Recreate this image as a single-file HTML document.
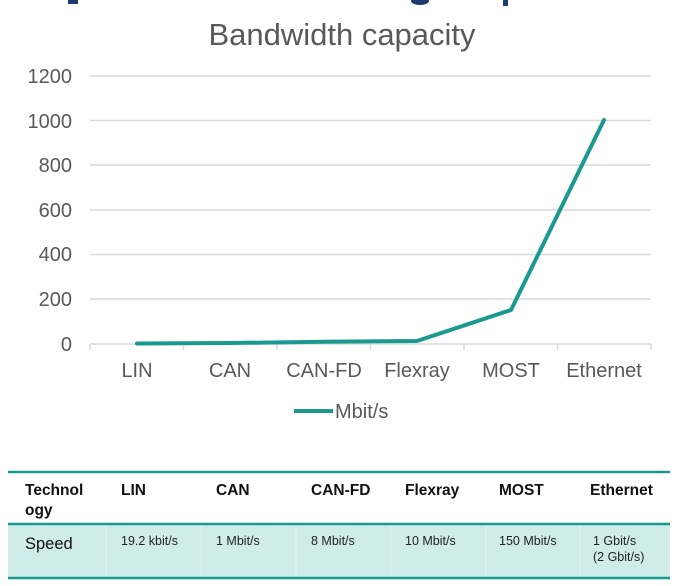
<!DOCTYPE html>
<html><head><meta charset="utf-8"><style>
body{margin:0;background:#fff;width:680px;height:586px;overflow:hidden;font-family:"Liberation Sans",Arial,sans-serif;}
</style></head><body>
<svg width="680" height="586" xmlns="http://www.w3.org/2000/svg" style="position:absolute;left:0;top:0">
<g fill="#1f3b6e">
<rect x="68" y="0" width="10" height="4"/>
<ellipse cx="420" cy="1" rx="9" ry="4"/>
<rect x="503" y="0" width="5" height="6"/>
</g>
<text x="342" y="45" text-anchor="middle" font-size="31" fill="#595959">Bandwidth capacity</text>
<g stroke="#d9d9d9" stroke-width="1.5">
<line x1="90" y1="76" x2="651" y2="76"/>
<line x1="90" y1="120.5" x2="651" y2="120.5"/>
<line x1="90" y1="165" x2="651" y2="165"/>
<line x1="90" y1="210" x2="651" y2="210"/>
<line x1="90" y1="254.5" x2="651" y2="254.5"/>
<line x1="90" y1="299" x2="651" y2="299"/>
<line x1="90" y1="344" x2="651" y2="344"/>
<line x1="90" y1="344" x2="90" y2="350"/>
<line x1="183.5" y1="344" x2="183.5" y2="350"/>
<line x1="277" y1="344" x2="277" y2="350"/>
<line x1="370.5" y1="344" x2="370.5" y2="350"/>
<line x1="464" y1="344" x2="464" y2="350"/>
<line x1="557.5" y1="344" x2="557.5" y2="350"/>
<line x1="651" y1="344" x2="651" y2="350"/>
</g>
<g font-size="20" fill="#595959" text-anchor="end">
<text x="72" y="83">1200</text>
<text x="72" y="128">1000</text>
<text x="72" y="172">800</text>
<text x="72" y="217">600</text>
<text x="72" y="261">400</text>
<text x="72" y="306">200</text>
<text x="72" y="351">0</text>
</g>
<g font-size="20" fill="#595959" text-anchor="middle">
<text x="137" y="377">LIN</text>
<text x="230" y="377">CAN</text>
<text x="324" y="377">CAN-FD</text>
<text x="417" y="377">Flexray</text>
<text x="511" y="377">MOST</text>
<text x="604" y="377">Ethernet</text>
</g>
<polyline points="137,343.5 230,343 324,341.8 417,341 511,310 604,120" fill="none" stroke="#1a9a8f" stroke-width="4" stroke-linejoin="round" stroke-linecap="round"/>
<line x1="294" y1="411" x2="333" y2="411" stroke="#1a9a8f" stroke-width="4"/>
<text x="335" y="418" font-size="20" fill="#595959">Mbit/s</text>
<rect x="8" y="524" width="662" height="54" fill="#cfeceb"/>
<g stroke="#e6f5f4" stroke-width="1">
<line x1="106" y1="524" x2="106" y2="578"/>
<line x1="201" y1="524" x2="201" y2="578"/>
<line x1="296" y1="524" x2="296" y2="578"/>
<line x1="391" y1="524" x2="391" y2="578"/>
<line x1="486" y1="524" x2="486" y2="578"/>
<line x1="580" y1="524" x2="580" y2="578"/>
</g>
<g stroke="#1a9a8f" stroke-width="2.5">
<line x1="8" y1="472" x2="670" y2="472"/>
<line x1="8" y1="524" x2="670" y2="524"/>
<line x1="8" y1="578" x2="670" y2="578"/>
</g>
<g font-size="15.5" font-weight="bold" fill="#111">
<text x="25" y="495">Technol</text>
<text x="25" y="515">ogy</text>
<text x="121" y="495">LIN</text>
<text x="216" y="495">CAN</text>
<text x="311" y="495">CAN-FD</text>
<text x="405" y="495">Flexray</text>
<text x="499" y="495">MOST</text>
<text x="590" y="495">Ethernet</text>
</g>
<text x="25" y="549" font-size="16.5" fill="#111">Speed</text>
<g font-size="12.5" fill="#222">
<text x="121" y="545">19.2 kbit/s</text>
<text x="216" y="545">1 Mbit/s</text>
<text x="311" y="545">8 Mbit/s</text>
<text x="405" y="545">10 Mbit/s</text>
<text x="499" y="545">150 Mbit/s</text>
<text x="593" y="545">1 Gbit/s</text>
<text x="593" y="561">(2 Gbit/s)</text>
</g>
</svg>
</body></html>
